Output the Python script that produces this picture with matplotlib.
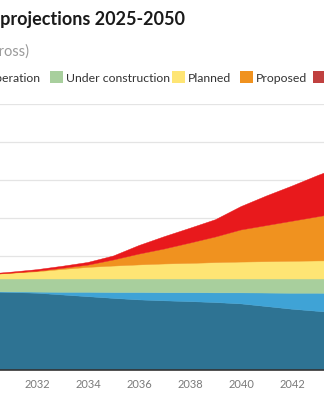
import matplotlib.pyplot as plt
from matplotlib.patches import Rectangle

plt.rcParams['font.family'] = ['Lato', 'DejaVu Sans']

# Nuclear capacity by status, GW gross
years = list(range(2030, 2045))
in_operation = [411, 408, 404, 395, 386, 377, 369, 364, 360, 355, 348, 334, 320, 309, 298]
long_term_operation = [1, 3, 6, 14, 23, 31, 39, 43, 47, 51, 58, 71, 84, 95, 105]
under_construction = [67, 68, 69, 70, 70, 71, 71, 72, 72, 73, 73, 74, 75, 75, 76]
planned = [21, 30, 38, 50, 61, 68, 74, 79, 82, 86, 89, 91, 93, 95, 96]
proposed = [1, 1, 3, 6, 12, 32, 57, 79, 107, 135, 169, 190, 211, 232, 254]
speculative = [3, 5, 8, 11, 14, 21, 45, 65, 78, 91, 123, 156, 185, 217, 245]

series = [in_operation, long_term_operation, under_construction, planned, proposed, speculative]
colors = ['#2e7393', '#3fa3d6', '#a8cf9d', '#fee574', '#f0921f', '#e8191c']
legend_colors = ['#2e7393', '#3fa3d6', '#a8cf9d', '#fee574', '#f0921f', '#c0403f']
labels = ['In operation', 'Long-term operation', 'Under construction', 'Planned', 'Proposed', 'Speculative']

y_ticks = list(range(0, 1401, 200))

W, H = 324, 400
fig = plt.figure(figsize=(W / 100, H / 100), dpi=100)


def fx(px):
    return px / W


def fy(py):
    return 1 - py / H


ax = fig.add_axes([0, fy(370), 1, (370 - 104) / H])
polys = ax.stackplot(years, *series, colors=colors, linewidth=0)
for p in polys:
    p.set_edgecolor('face')
    p.set_linewidth(0.3)

ax.set_xlim(2030.55, 2043.25)
ax.set_ylim(0, 1400)
ax.set_yticks(y_ticks)
ax.set_xticks([2032, 2034, 2036, 2038, 2040, 2042])
ax.tick_params(axis='y', length=0, labelleft=False)
ax.tick_params(axis='x', length=0, pad=6.5, labelsize=8, labelcolor='#7a7a7a')
ax.grid(axis='y', color='#e4e4e4', linewidth=0.9)
ax.set_axisbelow(True)
for side in ['top', 'left', 'right']:
    ax.spines[side].set_visible(False)
ax.spines['bottom'].set_color('#333333')
ax.spines['bottom'].set_linewidth(1.2)
ax.spines['bottom'].set_zorder(5)

# Titles
fig.text(fx(185), fy(25.5), 'Nuclear power projections 2025-2050', ha='right', va='baseline',
         fontsize=13, fontweight='bold', color='#1a1a1a')
fig.text(fx(29), fy(56), 'Nuclear capacity (GW, gross)', ha='right', va='baseline',
         fontsize=10.5, color='#9a9a9a')

# Legend row
fig.text(fx(40), fy(81.5), labels[1], ha='right', va='baseline', fontsize=8.8, color='#333333')
box_x = [50, 172, 240, 313]
for i, bx in zip(range(2, 6), box_x):
    fig.patches.append(Rectangle((fx(bx), fy(83.3)), 13 / W, 12.6 / H, transform=fig.transFigure,
                                 facecolor=legend_colors[i], edgecolor='none'))
    fig.text(fx(bx + 16), fy(81.5), labels[i], ha='left', va='baseline', fontsize=8.8, color='#333333')

fig.savefig('out.png', dpi=100)
